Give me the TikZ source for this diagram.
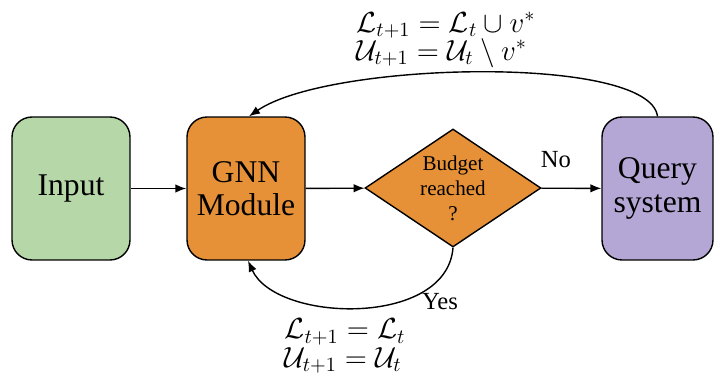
\documentclass[tikz,border=0pt]{standalone}
\usepackage{amsmath,amsfonts,amssymb}
\usepackage{fontspec}
\setmainfont{Liberation Serif}
\usetikzlibrary{shapes.geometric,arrows.meta}

\definecolor{inputgreen}{HTML}{B6D7A8}
\definecolor{gnnorange}{HTML}{E69138}
\definecolor{querypurple}{HTML}{B4A7D6}

\begin{document}
\begin{tikzpicture}[x=0.02cm, y=-0.02cm,
    box/.style={draw, rounded corners=0.4cm, line width=0.8pt, minimum width=2.36cm,
        minimum height=2.86cm, align=center, font=\fontsize{18}{19}\selectfont},
    decision/.style={draw, diamond, line width=0.8pt, inner sep=0pt, aspect=1.5,
        minimum width=3.52cm, minimum height=2.36cm, align=center,
        font=\fontsize{12}{14.2}\selectfont},
    arr/.style={-{Latex[length=2.2mm,width=1.7mm]}, line width=0.8pt},
    lbl/.style={font=\fontsize{14}{16}\selectfont},
    eqs/.style={align=left, inner sep=1pt, scale=1.15, transform shape, font=\fontsize{14.4}{14}\selectfont}]
    \useasboundingbox (0,0) rectangle (714,375);

    % Nodes
    \node[box, fill=inputgreen] (input) at (71,188.5) {Input};
    \node[box, fill=gnnorange] (gnn) at (246,188.5) {GNN\\Module};
    \node[decision, fill=gnnorange] (budget) at (453,188) {Budget\\reached\\?};
    \node[box, fill=querypurple, minimum width=2.22cm] (query) at (657.5,188.5) {Query\\system};

    % Labels
    \node[lbl] (no) at (556,160) {No};
    \node[lbl] (yes) at (440,302) {Yes};
    \node[eqs] (upd) at (446,40) {$\mathcal{L}_{t+1} = \mathcal{L}_t \cup v^*$\\$\mathcal{U}_{t+1} = \mathcal{U}_t \setminus v^*$};
    \node[eqs] (keep) at (345,346) {$\mathcal{L}_{t+1} = \mathcal{L}_t$\\$\mathcal{U}_{t+1} = \mathcal{U}_t$};

    % Edges
    \draw[arr] (input) -- (gnn);
    \draw[arr] (gnn) -- (budget);
    \draw[arr] (budget) -- (query);
    \draw[arr] (query.north) .. controls +(-8,-62) and +(80,-55) .. ([xshift=0.06cm]gnn.north);
    \draw[arr] (budget.south) .. controls +(-6,80) and +(28,62) .. ([xshift=0.04cm]gnn.south);
\end{tikzpicture}
\end{document}
